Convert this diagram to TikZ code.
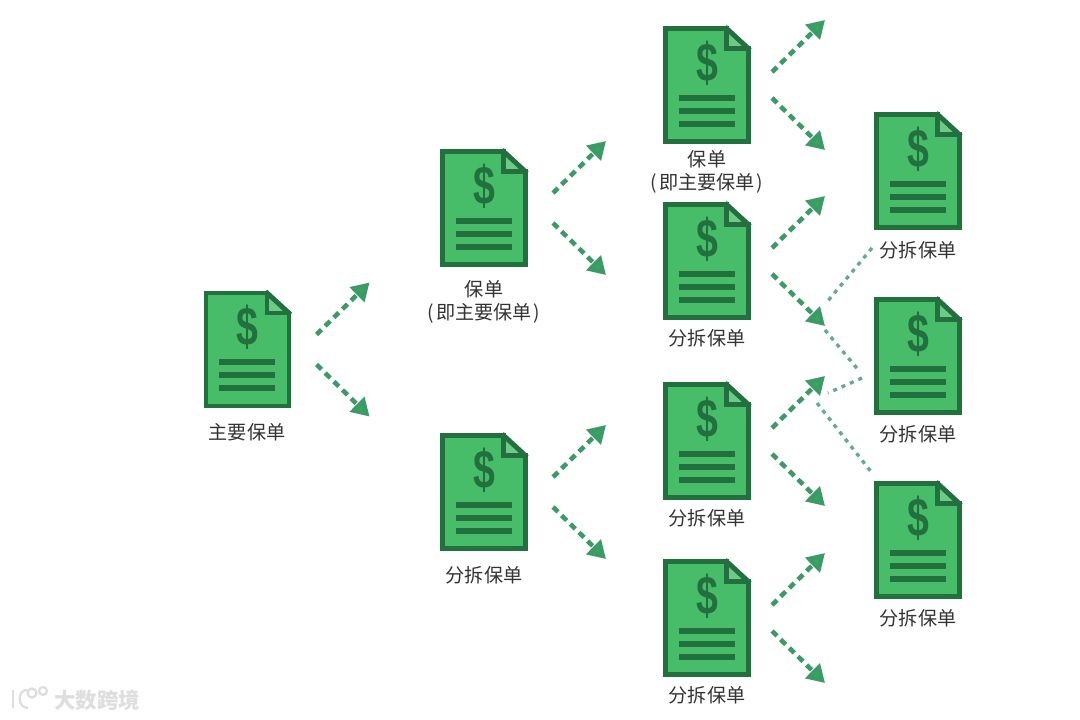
\documentclass[tikz,border=0pt]{standalone}
\usepackage{fontspec}
\setmainfont{Noto Sans CJK SC}
\newfontfamily\dollarfont{Liberation Sans}
\usetikzlibrary{arrows.meta}
\definecolor{billfill}{HTML}{48BD69}
\definecolor{billdark}{HTML}{22703E}
\definecolor{flowgreen}{HTML}{3C9A68}
\definecolor{faintgreen}{HTML}{62AC8C}
\tikzset{
  billtext/.style={text=black!80,font=\fontsize{10.9}{13}\selectfont,align=center,inner sep=0pt},
  flow/.style={flowgreen,line width=2.6pt,dash pattern=on 4pt off 2.9pt,-{Triangle[length=10pt,width=11.5pt,fill=flowgreen!80!green]}},
  faint/.style={faintgreen,line width=1.9pt,dash pattern=on 2.3pt off 2.9pt},
  pics/billdoc/.style n args={2}{code={
    \fill[billfill!80!white] (19.5,-56.5) -- (41.5,-36.5) -- (19.5,-36.5) -- cycle;
    \filldraw[fill=billfill,draw=billdark,line width=2.8pt] (-41.5,-56.5) -- (19.5,-56.5) -- (19.5,-36.5) -- (41.5,-36.5) -- (41.5,56.5) -- (-41.5,56.5) -- cycle;
    \draw[billdark,line width=2.8pt] (18,-58) -- (43,-35);
    \node[billdark,inner sep=0pt,font=\dollarfont\bfseries\fontsize{31}{31}\selectfont] (-sign) at (0,-22) {\scalebox{.72}[1]{\$}};
    \fill[billdark] (-28.5,9.5) rectangle (27.5,15.5);
    \fill[billdark] (-28.5,22.5) rectangle (27.5,28.5);
    \fill[billdark] (-28.5,35.5) rectangle (27.5,41.5);
    \coordinate (-us) at (#1,-#2);
    \coordinate (-ut) at (#1+53,-#2-52);
    \coordinate (-ds) at (#1,#2);
    \coordinate (-dt) at (#1+53,#2+52);
  }}
}
\begin{document}
\begin{tikzpicture}[x=0.02cm,y=-0.02cm]
\useasboundingbox (0,0) rectangle (1080,720);

\pic (main) at (247.5,349.5) {billdoc={69}{15}};
\pic (pa) at (484,208) {billdoc={69}{15}};
\pic (pb) at (484,492) {billdoc={69}{15}};
\pic (qa) at (707,85) {billdoc={65}{13}};
\pic (qb) at (707,261) {billdoc={65}{13}};
\pic (qc) at (707,441) {billdoc={65}{13}};
\pic (qd) at (707,618) {billdoc={65}{13}};
\pic (ra) at (918,171) {billdoc={65}{13}};
\pic (rb) at (918,356) {billdoc={65}{13}};
\pic (rc) at (918,540) {billdoc={65}{13}};

\node[billtext] (lmain) at (247,432) {主要保单};
\node[billtext] (lpa) at (484,302) {保单\\(\hspace{1pt}即主要保单\hspace{1pt})};
\node[billtext] (lpb) at (484,575) {分拆保单};
\node[billtext] (lqa) at (707,172) {保单\\(\hspace{1pt}即主要保单\hspace{1pt})};
\node[billtext] (lqb) at (707,338) {分拆保单};
\node[billtext] (lqc) at (707,518) {分拆保单};
\node[billtext] (lqd) at (707,695) {分拆保单};
\node[billtext] (lra) at (918,250) {分拆保单};
\node[billtext] (lrb) at (918,434) {分拆保单};
\node[billtext] (lrc) at (918,618) {分拆保单};

\begin{scope}[flow]
\foreach \n in {main,pa,pb,qa,qb,qc,qd} {
  \draw (\n-us) -- (\n-ut);
  \draw (\n-ds) -- (\n-dt);
}
\end{scope}

\coordinate (fa) at (872,248);
\coordinate (fb) at (827,302);
\coordinate (fc) at (825,330);
\coordinate (fd) at (860,372);
\coordinate (fe) at (862,378);
\coordinate (ff) at (828,393);
\coordinate (fg) at (817,403);
\coordinate (fh) at (872,473);
\begin{scope}[faint]
\draw (fa) -- (fb);
\draw (fc) -- (fd);
\draw (fe) -- (ff);
\draw (fg) -- (fh);
\end{scope}

\node[text=black!13,inner sep=0pt,font=\bfseries\fontsize{12.2}{14}\selectfont] (mark) at (97,700) {大数跨境};
\begin{scope}[black!13,line width=1.3pt]
\draw (13,690) -- (13,708);
\draw (27,690) .. controls (17,690) and (17,708) .. (28,708);
\draw (32,693) circle (4.5);
\draw (43,691) circle (4);
\end{scope}

\end{tikzpicture}
\end{document}
